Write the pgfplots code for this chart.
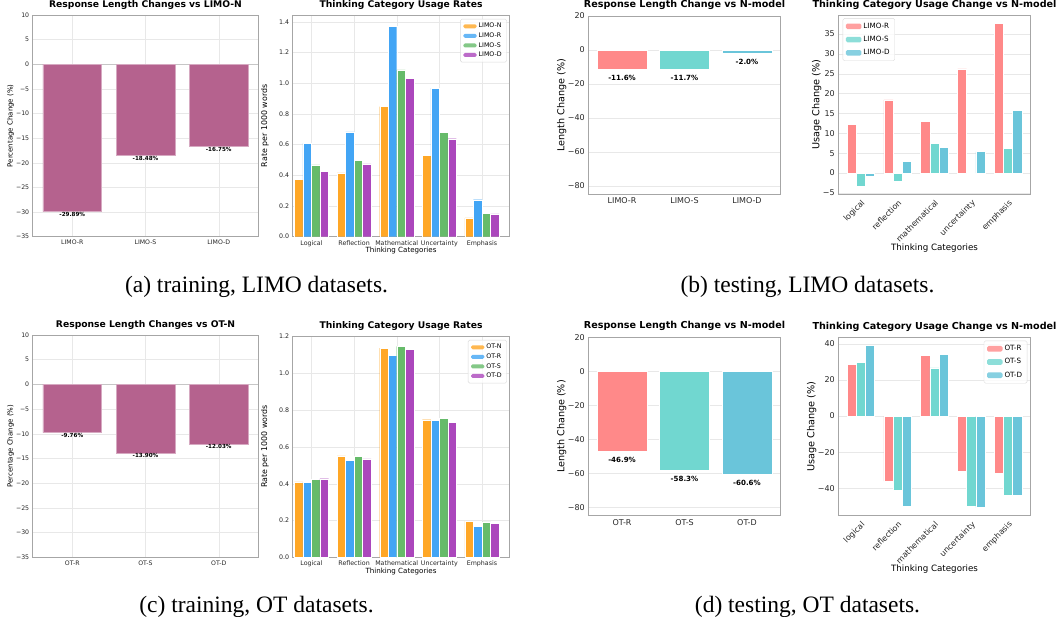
\documentclass[border=0pt]{standalone}
\usepackage{fontspec}
\setmainfont{DejaVu Sans}
\newfontfamily\capfont{Liberation Serif}
\usepackage{pgfplots}
\pgfplotsset{compat=1.18}

\definecolor{trainbar}{HTML}{B5628E}
\definecolor{cN}{HTML}{FFA726}
\definecolor{cR}{HTML}{42A5F5}
\definecolor{cS}{HTML}{66BB6A}
\definecolor{cD}{HTML}{AB47BC}
\definecolor{tR}{HTML}{FF8989}
\definecolor{tS}{HTML}{71D7D0}
\definecolor{tD}{HTML}{6AC5DA}

\newcommand{\fs}[1]{\fontsize{#1}{#1}\selectfont}

\pgfplotsset{
 mpl/.style={
  scale only axis,
  anchor=south west,
  axis line style={draw=gray!70, line width=0.6pt},
  tick style={draw=none},
  grid style={draw=gray!18, line width=0.4pt},
  tick label style={text=black!85},
  /pgf/number format/assume math mode=true,
  legend cell align=left,
  legend style={draw=gray!30, rounded corners=1.5pt, fill=white, fill opacity=0.8, text opacity=1},
 },
 lenstyle/.style={
  xmin=-0.54, xmax=2.54, ymin=-35, ymax=10,
  xtick={0,1,2},
  ytick={-35,-30,...,10}, yticklabels={−35,−30,−25,−20,−15,−10,−5,0,5,10},
  xmajorgrids, ymajorgrids,
  tick label style={font=\fs{6.2}},
  title style={font=\bfseries\fs{9.2}, anchor=base, at={(0.5,1)}, yshift=1.6pt},
  ylabel={Percentage Change (\%)},
  ylabel style={font=\fs{7}, at={(axis description cs:-0.0975,0.5)}, anchor=center},
  nodes near coords, point meta=explicit symbolic,
  every node near coord/.append style={font=\bfseries\fs{5.6}, anchor=north, inner sep=0pt, yshift=-0.3pt},
 },
 ratestyle/.style={
  xmin=-0.44, xmax=4.64, ymin=0,
  xtick={0,1,2,3,4}, xticklabels={Logical,Reflection,Mathematical,Uncertainty,Emphasis},
  xmajorgrids, ymajorgrids,
  tick label style={font=\fs{6.3}},
  title={Thinking Category Usage Rates},
  title style={font=\bfseries\fs{9.2}, anchor=base, at={(0.5,1)}, yshift=1.6pt},
  xlabel={Thinking Categories},
  xlabel style={font=\fs{7.1}, at={(axis description cs:0.5,-0.063)}, anchor=center},
  ylabel={Rate per 1000 words},
  ylabel style={font=\fs{7.9}, at={(axis description cs:-0.128,0.5)}, anchor=center},
  legend style={at={(0.989,0.982)}, anchor=north east, font=\fs{6.3}, row sep=-0.6pt},
  legend image code/.code={\draw[##1, draw=none] (0pt,-2pt) rectangle (13.3pt,2pt);},
 },
 teststyle/.style={
  xmin=-0.54, xmax=2.54, ymin=-85, ymax=20,
  xtick={0,1,2},
  ytick={-80,-60,...,20}, yticklabels={−80,−60,−40,−20,0,20},
  ymajorgrids,
  tick label style={font=\fs{8}},
  title={Response Length Change vs N-model},
  title style={font=\bfseries\fs{9.6}, anchor=base, at={(0.5,1)}, yshift=2.5pt},
  ylabel={Length Change (\%)},
  ylabel style={font=\fs{9.6}, at={(axis description cs:-0.138,0.5)}, anchor=center},
  nodes near coords, point meta=explicit symbolic,
  every node near coord/.append style={font=\bfseries\fs{7.1}, anchor=north, inner sep=0pt, yshift=-5.5pt},
 },
 usagestyle/.style={
  xmin=-0.6125, xmax=4.6125,
  xtick={0,1,2,3,4}, xticklabels={logical,reflection,mathematical,uncertainty,emphasis},
  xticklabel style={rotate=45, anchor=north east, font=\fs{8}},
  yticklabel style={font=\fs{8}},
  ymajorgrids,
  title={Thinking Category Usage Change vs N-model},
  title style={font=\bfseries\fs{9.6}, anchor=base, at={(0.5,1)}, yshift=1.5pt},
  xlabel={Thinking Categories},
  xlabel style={font=\fs{8.7}, at={(axis description cs:0.5,-0.301)}, anchor=center},
  ylabel={Usage Change (\%)},
  ylabel style={font=\fs{9.7}, anchor=center},
  legend style={font=\fs{7.2}, row sep=2.4pt, inner ysep=2.5pt},
  legend image code/.code={\draw[##1, draw=none] (0pt,-2.8pt) rectangle (15.5pt,2.8pt);},
 },
}

\begin{document}
\begin{tikzpicture}
\path[use as bounding box] (0pt,0pt) rectangle (1060pt,617pt);

% (a) left
\begin{axis}[mpl, lenstyle, at={(32.7pt,380.3pt)}, width=225.6pt, height=221.7pt,
  xticklabels={LIMO-R,LIMO-S,LIMO-D},
  title={Response Length Changes vs LIMO-N}]
\draw[gray!45, line width=1.3pt] (axis cs:-0.54,0) -- (axis cs:2.54,0);
\addplot[ybar, bar width=0.8, fill=trainbar, draw=trainbar!55!white, line width=0.6pt]
  coordinates {(0,-29.89) [-29.89\%] (1,-18.48) [-18.48\%] (2,-16.75) [-16.75\%]};
\end{axis}

% (a) right
\begin{axis}[mpl, ratestyle, at={(292.7pt,380.3pt)}, width=216.6pt, height=221.7pt,
  ymax=1.444,
  ytick={0,0.2,0.4,0.6,0.8,1.0,1.2,1.4}, yticklabels={0.0,0.2,0.4,0.6,0.8,1.0,1.2,1.4}]
\addplot[ybar, bar width=0.2, bar shift=-0.3, fill=cN, draw=white, line width=0.3pt]
  coordinates {(0,0.375) (1,0.415) (2,0.847) (3,0.530) (4,0.122)};
\addplot[ybar, bar width=0.2, bar shift=-0.1, fill=cR, draw=white, line width=0.3pt]
  coordinates {(0,0.608) (1,0.682) (2,1.372) (3,0.968) (4,0.241)};
\addplot[ybar, bar width=0.2, bar shift=0.1, fill=cS, draw=white, line width=0.3pt]
  coordinates {(0,0.467) (1,0.497) (2,1.087) (3,0.679) (4,0.154)};
\addplot[ybar, bar width=0.2, bar shift=0.3, fill=cD, draw=white, line width=0.3pt]
  coordinates {(0,0.425) (1,0.475) (2,1.033) (3,0.638) (4,0.148)};
\legend{LIMO-N,LIMO-R,LIMO-S,LIMO-D}
\end{axis}

% (b) left
\begin{axis}[mpl, teststyle, at={(588.3pt,422.7pt)}, width=192.4pt, height=178.3pt,
  xticklabels={LIMO-R,LIMO-S,LIMO-D}]
\addplot[ybar, bar width=0.8, fill=tR, draw=white, line width=0.8pt] coordinates {(0,-11.6) [-11.6\%]};
\addplot[ybar, bar width=0.8, fill=tS, draw=white, line width=0.8pt] coordinates {(1,-11.7) [-11.7\%]};
\addplot[ybar, bar width=0.8, fill=tD, draw=white, line width=0.8pt] coordinates {(2,-2.0) [-2.0\%]};
\end{axis}

% (b) right
\begin{axis}[mpl, usagestyle, at={(838.3pt,422.7pt)}, width=192.4pt, height=179.3pt,
  ymin=-5.35, ymax=39.8,
  ytick={-5,0,5,10,15,20,25,30,35}, yticklabels={−5,0,5,10,15,20,25,30,35},
  ylabel style={at={(axis description cs:-0.112,0.5)}},
  legend style={at={(0.023,0.982)}, anchor=north west}]
\addplot[ybar, bar width=0.25, bar shift=-0.25, fill=tR, draw=white, line width=0.6pt]
  coordinates {(0,12.2) (1,18.4) (2,13.0) (3,26.2) (4,37.6)};
\addplot[ybar, bar width=0.25, bar shift=0, fill=tS, draw=white, line width=0.6pt]
  coordinates {(0,-3.3) (1,-2.1) (2,7.5) (3,0.0) (4,6.2)};
\addplot[ybar, bar width=0.25, bar shift=0.25, fill=tD, draw=white, line width=0.6pt]
  coordinates {(0,-0.9) (1,2.9) (2,6.5) (3,5.4) (4,15.7)};
\legend{LIMO-R,LIMO-S,LIMO-D}
\end{axis}

% (c) left
\begin{axis}[mpl, lenstyle, at={(32.7pt,59.7pt)}, width=225.6pt, height=222.3pt,
  xticklabels={OT-R,OT-S,OT-D},
  title={Response Length Changes vs OT-N}]
\draw[gray!45, line width=1.3pt] (axis cs:-0.54,0) -- (axis cs:2.54,0);
\addplot[ybar, bar width=0.8, fill=trainbar, draw=trainbar!55!white, line width=0.6pt]
  coordinates {(0,-9.76) [-9.76\%] (1,-13.90) [-13.90\%] (2,-12.03) [-12.03\%]};
\end{axis}

% (c) right
\begin{axis}[mpl, ratestyle, at={(292.7pt,59.7pt)}, width=216.6pt, height=221.3pt,
  ymax=1.203,
  ytick={0,0.2,0.4,0.6,0.8,1.0,1.2}, yticklabels={0.0,0.2,0.4,0.6,0.8,1.0,1.2}]
\addplot[ybar, bar width=0.2, bar shift=-0.3, fill=cN, draw=white, line width=0.3pt]
  coordinates {(0,0.410) (1,0.551) (2,1.137) (3,0.748) (4,0.197)};
\addplot[ybar, bar width=0.2, bar shift=-0.1, fill=cR, draw=white, line width=0.3pt]
  coordinates {(0,0.408) (1,0.526) (2,1.097) (3,0.746) (4,0.170)};
\addplot[ybar, bar width=0.2, bar shift=0.1, fill=cS, draw=white, line width=0.3pt]
  coordinates {(0,0.425) (1,0.548) (2,1.146) (3,0.755) (4,0.193)};
\addplot[ybar, bar width=0.2, bar shift=0.3, fill=cD, draw=white, line width=0.3pt]
  coordinates {(0,0.427) (1,0.535) (2,1.131) (3,0.732) (4,0.184)};
\legend{OT-N,OT-R,OT-S,OT-D}
\end{axis}

% (d) left
\begin{axis}[mpl, teststyle, at={(588.3pt,101.3pt)}, width=192.4pt, height=178.4pt,
  xticklabels={OT-R,OT-S,OT-D}]
\addplot[ybar, bar width=0.8, fill=tR, draw=white, line width=0.8pt] coordinates {(0,-46.9) [-46.9\%]};
\addplot[ybar, bar width=0.8, fill=tS, draw=white, line width=0.8pt] coordinates {(1,-58.3) [-58.3\%]};
\addplot[ybar, bar width=0.8, fill=tD, draw=white, line width=0.8pt] coordinates {(2,-60.6) [-60.6\%]};
\end{axis}

% (d) right
\begin{axis}[mpl, usagestyle, at={(838.3pt,101.3pt)}, width=192.4pt, height=178.4pt,
  ymin=-55.2, ymax=43.6,
  ytick={-40,-20,0,20,40}, yticklabels={−40,−20,0,20,40},
  ylabel style={at={(axis description cs:-0.138,0.5)}},
  legend style={at={(0.982,0.981)}, anchor=north east}]
\addplot[ybar, bar width=0.25, bar shift=-0.25, fill=tR, draw=white, line width=0.6pt]
  coordinates {(0,28.8) (1,-36.1) (2,33.7) (3,-30.8) (4,-31.7)};
\addplot[ybar, bar width=0.25, bar shift=0, fill=tS, draw=white, line width=0.6pt]
  coordinates {(0,29.7) (1,-40.9) (2,26.7) (3,-50.1) (4,-43.9)};
\addplot[ybar, bar width=0.25, bar shift=0.25, fill=tD, draw=white, line width=0.6pt]
  coordinates {(0,39.1) (1,-50.1) (2,34.3) (3,-50.7) (4,-43.9)};
\legend{OT-R,OT-S,OT-D}
\end{axis}

% captions
\node[font=\capfont\fs{23.5}, anchor=base] at (256.5pt,324.7pt) {(a) training, LIMO datasets.};
\node[font=\capfont\fs{23.5}, anchor=base] at (807.5pt,324.7pt) {(b) testing, LIMO datasets.};
\node[font=\capfont\fs{23.5}, anchor=base] at (256.5pt,4pt) {(c) training, OT datasets.};
\node[font=\capfont\fs{23.5}, anchor=base] at (807.5pt,4pt) {(d) testing, OT datasets.};
\end{tikzpicture}
\end{document}
